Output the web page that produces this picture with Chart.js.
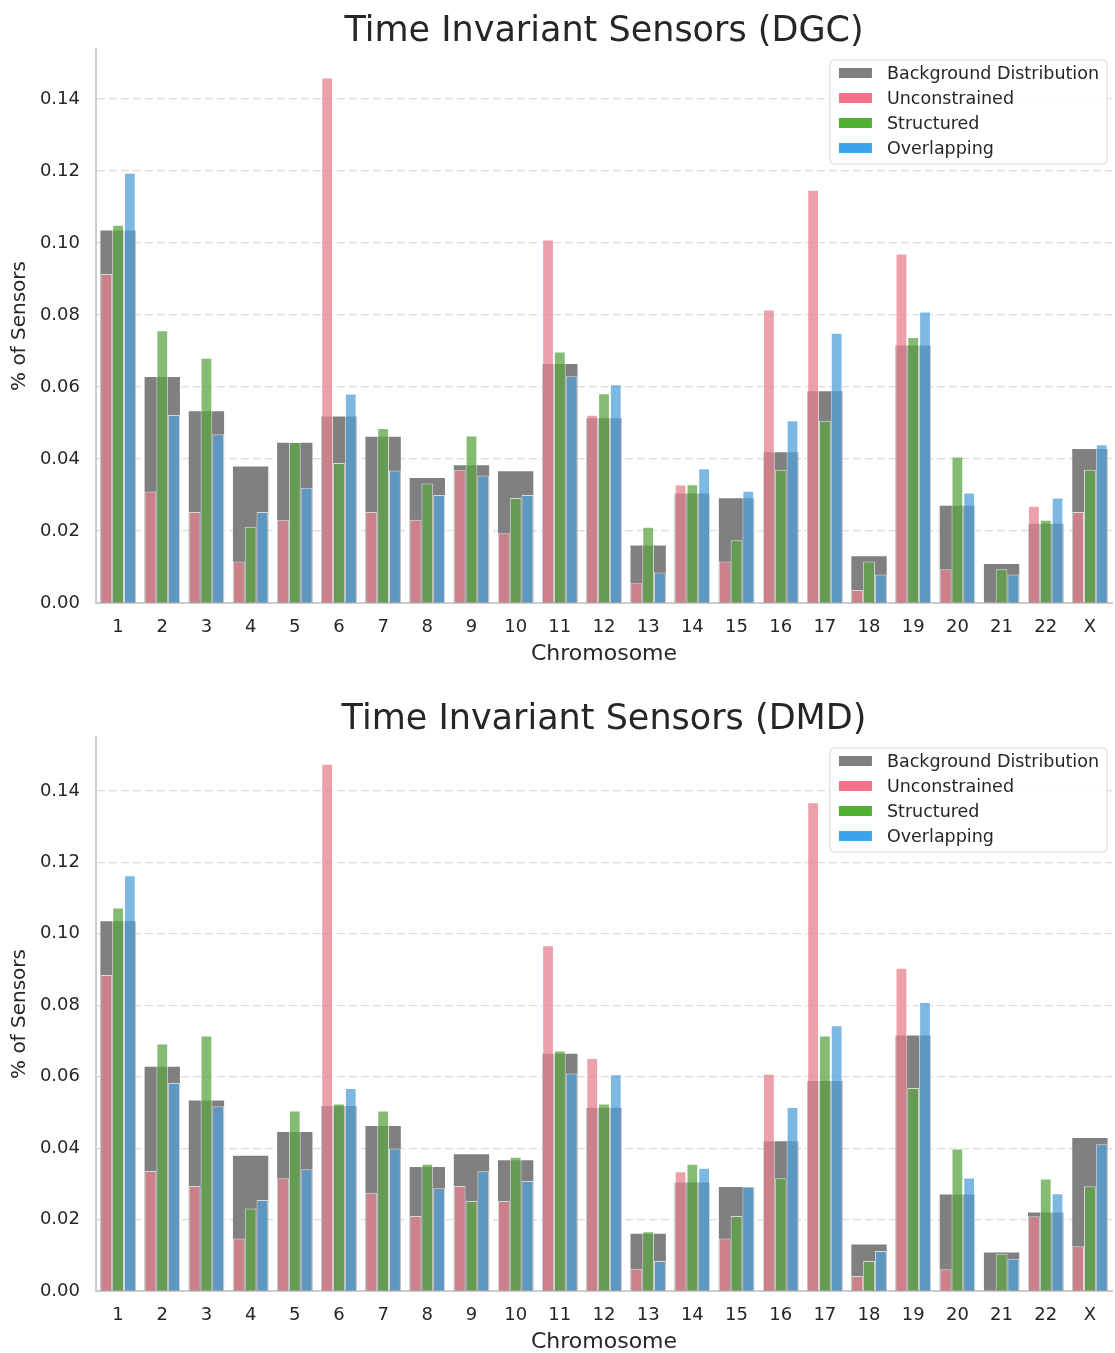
<!DOCTYPE html>
<html>
<head>
<meta charset="utf-8">
<script src="https://cdn.jsdelivr.net/npm/chart.js@4.4.1/dist/chart.umd.min.js"></script>
<style>
  body { margin: 0; background: #ffffff; }
  canvas { display: block; }
</style>
</head>
<body>
<canvas id="dgc" width="1115" height="688"></canvas>
<canvas id="dmd" width="1115" height="665"></canvas>
<script>
const chromosomes = ['1', '2', '3', '4', '5', '6', '7', '8', '9', '10', '11', '12',
                     '13', '14', '15', '16', '17', '18', '19', '20', '21', '22', 'X'];

// share of sensors per chromosome in the whole genome
const background = [0.1035, 0.0628, 0.0533, 0.0379, 0.0445, 0.0518, 0.0462, 0.0347, 0.0383, 0.0366, 0.0664, 0.0513,
                    0.0160, 0.0304, 0.0291, 0.0419, 0.0588, 0.0130, 0.0715, 0.0270, 0.0108, 0.0220, 0.0428];

const dgcUnconstrained = [0.0914, 0.0310, 0.0253, 0.0115, 0.0231, 0.1460, 0.0253, 0.0231, 0.0370, 0.0194, 0.1010, 0.0523,
                          0.0055, 0.0329, 0.0115, 0.0815, 0.1148, 0.0036, 0.0971, 0.0094, 0.0, 0.0270, 0.0253];
const dgcStructured = [0.1051, 0.0758, 0.0681, 0.0212, 0.0447, 0.0389, 0.0486, 0.0332, 0.0465, 0.0292, 0.0699, 0.0583,
                       0.0212, 0.0330, 0.0174, 0.0370, 0.0506, 0.0115, 0.0739, 0.0407, 0.0094, 0.0231, 0.0370];
const dgcOverlapping = [0.1195, 0.0522, 0.0469, 0.0253, 0.0320, 0.0582, 0.0368, 0.0300, 0.0354, 0.0300, 0.0630, 0.0608,
                        0.0085, 0.0374, 0.0312, 0.0508, 0.0751, 0.0079, 0.0810, 0.0307, 0.0079, 0.0293, 0.0441];

const dmdUnconstrained = [0.0885, 0.0336, 0.0294, 0.0147, 0.0316, 0.1476, 0.0275, 0.0210, 0.0294, 0.0252, 0.0968, 0.0652,
                          0.0062, 0.0335, 0.0147, 0.0608, 0.1368, 0.0042, 0.0905, 0.0061, 0.0, 0.0209, 0.0125];
const dmdStructured = [0.1074, 0.0693, 0.0715, 0.0231, 0.0505, 0.0525, 0.0505, 0.0356, 0.0252, 0.0376, 0.0673, 0.0525,
                       0.0167, 0.0356, 0.0210, 0.0316, 0.0715, 0.0084, 0.0568, 0.0399, 0.0104, 0.0315, 0.0293];
const dmdOverlapping = [0.1164, 0.0582, 0.0517, 0.0255, 0.0341, 0.0568, 0.0399, 0.0288, 0.0335, 0.0308, 0.0609, 0.0607,
                        0.0084, 0.0345, 0.0292, 0.0515, 0.0744, 0.0112, 0.0809, 0.0318, 0.0090, 0.0274, 0.0411];

const yTicks = [0, 0.02, 0.04, 0.06, 0.08, 0.10, 0.12, 0.14];

const seriesNames = ['Background Distribution', 'Unconstrained', 'Structured', 'Overlapping'];
const legendColors = ['#808080', '#f77189', '#50b131', '#3ba3ec'];
const barColors = ['#808080', 'rgba(229,128,141,0.75)', 'rgba(92,164,68,0.75)', 'rgba(81,160,217,0.75)'];

const FONT = '"DejaVu Sans", sans-serif';
const INK = '#262626';

// legend box pinned to the upper right corner of the plot area
const legendBox = {
  id: 'legendBox',
  afterDraw(chart) {
    const { ctx, chartArea } = chart;
    ctx.save();
    ctx.font = '17.5px ' + FONT;
    const textW = Math.max(...seriesNames.map(t => ctx.measureText(t).width));
    const w = 9 + 33 + 15 + textW + 8;
    const h = 104;
    const x = chartArea.right - 5 - w;
    const y = chartArea.top + 11;

    ctx.beginPath();
    ctx.roundRect(x, y, w, h, 4);
    ctx.fillStyle = 'rgba(255,255,255,0.85)';
    ctx.fill();
    ctx.strokeStyle = '#d6d6d6';
    ctx.lineWidth = 1;
    ctx.stroke();

    seriesNames.forEach((name, i) => {
      const cy = y + 13 + i * 25;
      ctx.fillStyle = legendColors[i];
      ctx.fillRect(x + 9, cy - 5, 33, 10);
      ctx.fillStyle = INK;
      ctx.textBaseline = 'middle';
      ctx.fillText(name, x + 57, cy + 1);
    });
    ctx.restore();
  }
};

function makeChart(canvasId, title, unconstrained, structured, overlapping, yMax, bottomPad) {
  const sets = [background, unconstrained, structured, overlapping];
  // background bar spans the whole group (not grouped); the three sensor sets sit side by side over it
  const datasets = sets.map((values, i) => ({
    label: seriesNames[i],
    data: values,
    backgroundColor: barColors[i],
    borderColor: i === 0 ? barColors[0] : 'rgba(255,255,255,0.7)',
    borderWidth: i === 0 ? 0 : 1,
    grouped: i !== 0,
    order: i === 0 ? 1 : 0,
    categoryPercentage: 0.8,
    barPercentage: 1.0
  }));

  return new Chart(document.getElementById(canvasId), {
    type: 'bar',
    data: { labels: chromosomes, datasets },
    plugins: [legendBox],
    options: {
      responsive: false,
      animation: false,
      devicePixelRatio: 1,
      layout: { padding: { left: 0, right: 3, top: 0, bottom: bottomPad } },
      plugins: {
        legend: { display: false },
        tooltip: { enabled: false },
        title: {
          display: true,
          fullSize: false,
          text: title,
          color: INK,
          font: { family: FONT, size: 35, weight: 'normal', lineHeight: 1 },
          padding: { top: 14, bottom: 0 }
        }
      },
      scales: {
        x: {
          grid: { display: false },
          border: { display: true, color: '#cccccc', width: 2 },
          ticks: { color: INK, font: { family: FONT, size: 18 }, padding: 6 },
          title: {
            display: true,
            text: 'Chromosome',
            color: INK,
            font: { family: FONT, size: 22, lineHeight: 1 },
            padding: { top: 0, bottom: 0 }
          },
          afterFit: s => { s.height = 62; }
        },
        y: {
          min: 0,
          max: yMax,
          afterBuildTicks: s => { s.ticks = yTicks.map(v => ({ value: v })); },
          grid: { color: '#dcdcdc', lineWidth: 1.2, drawTicks: false },
          border: { display: true, color: '#cccccc', width: 2, dash: [8, 4] },
          ticks: {
            color: INK,
            font: { family: FONT, size: 18 },
            padding: 16,
            callback: v => v.toFixed(2)
          },
          title: {
            display: true,
            text: '% of Sensors',
            color: INK,
            font: { family: FONT, size: 20, lineHeight: 1.2 },
            padding: { top: 8, bottom: 8 }
          },
          afterFit: s => { s.width = 96; }
        }
      }
    }
  });
}

makeChart('dgc', 'Time Invariant Sensors (DGC)', dgcUnconstrained, dgcStructured, dgcOverlapping, 0.1539, 23);
makeChart('dmd', 'Time Invariant Sensors (DMD)', dmdUnconstrained, dmdStructured, dmdOverlapping, 0.1551, 0);
</script>
</body>
</html>
